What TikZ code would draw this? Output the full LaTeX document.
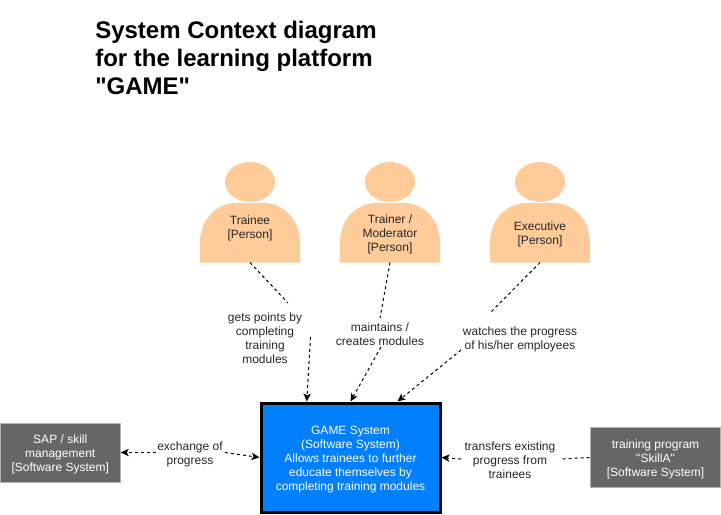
\documentclass[tikz,border=0pt]{standalone}
\usepackage{fontspec}
\defaultfontfeatures[\rmfamily]{}
\setmainfont{Liberation Sans}
\usetikzlibrary{arrows.meta}

\definecolor{personfill}{HTML}{FFCC99}
\definecolor{gamefill}{HTML}{007FFF}
\definecolor{extfill}{HTML}{666666}

\tikzset{
	small text/.style={font=\fontsize{9}{10.5}\selectfont, align=center},
	person/.style={small text, anchor=south, minimum width=75pt, minimum height=42pt, inner sep=0pt, outer sep=0pt, text=black!85},
	game/.style={small text, draw=black, line width=2.25pt, fill=gamefill, text=white, minimum width=134.25pt, minimum height=81.75pt, inner sep=0pt},
	external/.style={small text, draw=black!30, line width=.75pt, fill=extfill, text=white, inner sep=0pt},
	relation/.style={small text, inner sep=0pt, text=black!85},
	flow/.style={line width=.75pt, dash pattern=on 2.25pt off 2.25pt, >={Stealth[length=6pt,width=5.5pt,inset=1.5pt]}},
}

\begin{document}
\begin{tikzpicture}[x=.75pt, y=-.75pt]
	\useasboundingbox (0,0) rectangle (721,514);
	\node[font=\fontsize{18}{21}\selectfont\bfseries, align=left, anchor=west, inner sep=0pt] (title) at (95,58)
		{System Context diagram\\for the learning platform\\"GAME"};

	% the three people
	\foreach \x in {250,390,540} {
		\fill[personfill] (\x,182) ellipse (25 and 20);
		\fill[personfill] (\x-50,262.5) -- (\x-50,243) .. controls (\x-50,216) and (\x-30,203) .. (\x-14,203)
			-- (\x+14,203) .. controls (\x+30,203) and (\x+50,216) .. (\x+50,243) -- (\x+50,262.5) -- cycle;
	}
	\node[person] (trainee) at (250,262.5) {Trainee\\[0pt][Person]\\\mbox{}};
	\node[person] (trainer) at (390,262.5) {Trainer /\\Moderator\\[0pt][Person]};
	\node[person] (executive) at (540,262.5) {Executive\\[0pt][Person]};

	\node[game] (system) at (350.5,457.5) {\\[-1.5pt]GAME System\\(Software System)\\Allows trainees to further\\educate themselves by\\completing training modules};
	\node[external, minimum width=90pt, minimum height=44.25pt] (sap) at (60.25,452.5) {\\[-1.5pt]SAP / skill\\management\\[0pt][Software System]};
	\node[external, minimum width=98pt, minimum height=45pt] (skilla) at (655.5,457.5) {\\[-1pt]training program\\"SkillA"\\[0pt][Software System]};

	\node[relation] (points) at (265,338.5) {gets points by\\completing\\training\\modules};
	\node[relation] (maintains) at (380,334) {maintains /\\creates modules};
	\node[relation] (watches) at (520,339) {watches the progress\\of his/her employees};
	\node[relation] (exchange) at (190,454) {exchange of\\progress};
	\node[relation] (transfers) at (510,460) {transfers existing\\progress from\\trainees};

	% ends of the line pieces next to the labels
	\coordinate (a1) at (288,303);
	\coordinate (a2) at (310.5,337);
	\coordinate (b1) at (380,318);
	\coordinate (b2) at (381,347);
	\coordinate (c1) at (490,313);
	\coordinate (c2) at (461,350);
	\coordinate (d1) at (156,452.5);
	\coordinate (d2) at (225,452.5);
	\coordinate (e1) at (560,459);
	\coordinate (e2) at (461,459);

	\path[flow]
	(trainee.south) edge (a1)
	(a2) edge[->] (system.128.8)
	(trainer.south) edge (b1)
	(b2) edge[->] (system.north)
	(executive.south) edge (c1)
	(c2) edge[->] (system.50.3)
	(d1) edge[->] (sap.east)
	(d2) edge[->] (system.west)
	(skilla.west) edge (e1)
	(e2) edge[->] (system.east);
\end{tikzpicture}
\end{document}
